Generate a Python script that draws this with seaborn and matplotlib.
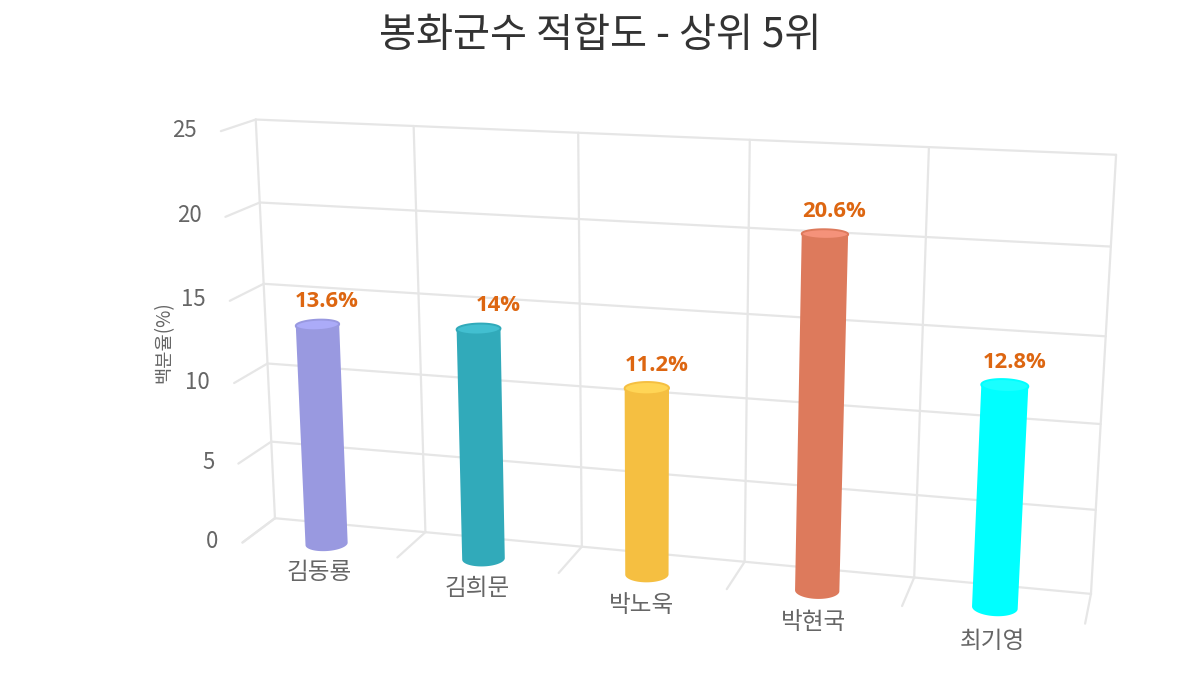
import numpy as np
import pandas as pd
import matplotlib
matplotlib.use("Agg")
import matplotlib.pyplot as plt
import seaborn as sns

CANDIDATES = ["김동룡", "김희문", "박노욱", "박현국", "최기영"]
FITNESS = [13.6, 14, 11.2, 20.6, 12.8]
VALUE_LABELS = ["13.6%", "14%", "11.2%", "20.6%", "12.8%"]
Y_TICKS = [0, 5, 10, 15, 20, 25]
BODY_COLORS = ["#9999E0", "#31AABA", "#F5BF41", "#DD7A5C", "#00FFFF"]
CAP_COLORS = ["#ABABF8", "#42BFD0", "#FFD556", "#F5927A", "#1AFFFF"]

GRID = "#E6E6E6"
KR = ["Noto Sans CJK KR", "DejaVu Sans"]

# camera: (category pos, value, depth) -> pixel, fitted on the corners of the 3d box
anchors = pd.DataFrame(
    [
        (0, 25, 0, 256, 117), (1, 25, 0, 413, 125), (3, 25, 0, 749, 140), (4, 25, 0, 929, 147),
        (5, 25, 0, 1116, 155), (0, 0, 0, 275, 518), (1, 0, 0, 425, 532), (2, 0, 0, 582, 547),
        (3, 0, 0, 744, 562), (4, 0, 0, 914, 577), (5, 0, 0, 1092, 594), (0, 25, 1, 221, 130),
        (0, 20, 1, 226, 218), (0, 15, 1, 230, 302), (0, 5, 1, 238, 464), (0, 0, 1, 242, 543),
        (1, 0, 1, 397, 557), (2, 0, 1, 559, 573), (3, 0, 1, 726, 588), (4, 0, 1, 902, 606),
        (5, 0, 1, 1086, 623), (0, 20, 0, 260, 204), (0, 15, 0, 264, 284), (0, 5, 0, 272, 442),
        (5, 20, 0, 1111, 248), (5, 10, 0, 1100, 425), (5, 5, 0, 1096, 509),
    ],
    columns=["u", "v", "w", "px", "py"],
)


def fit_camera(df):
    rows, rhs = [], []
    for u, v, w, px, py in df.itertuples(index=False):
        rows.append([u, v, w, 1, 0, 0, 0, 0, -px * u, -px * v, -px * w])
        rows.append([0, 0, 0, 0, u, v, w, 1, -py * u, -py * v, -py * w])
        rhs += [px, py]
    sol = np.linalg.lstsq(np.array(rows, float), np.array(rhs, float), rcond=None)[0]
    return np.append(sol, 1).reshape(3, 4)


CAM = fit_camera(anchors)


def project(u, v, w):
    u, v, w = np.broadcast_arrays(u, v, w)
    pts = CAM @ np.vstack([u.ravel(), v.ravel(), w.ravel(), np.ones(u.size)])
    return pts[0] / pts[2], pts[1] / pts[2]


def ring(i, value):
    t = np.linspace(0, 2 * np.pi, 120, endpoint=False)
    return project(i + 0.5 + 0.125 * np.cos(t), value, 0.76 + 0.28 * np.sin(t))


def lower_arc(x, y):
    # the part of the ring facing the viewer, left to right
    a, b = np.argmin(x), np.argmax(x)
    n = len(x)
    first = [(a + k) % n for k in range((b - a) % n + 1)]
    second = [(b + k) % n for k in range((a - b) % n + 1)][::-1]
    arc = first if y[first].mean() > y[second].mean() else second
    return x[arc], y[arc]


sns.set_theme(style="white")
plt.rcParams["font.family"] = KR

fig = plt.figure(figsize=(12, 6.73), dpi=100)
ax = fig.add_axes([0, 0, 1, 1])
ax.set_xlim(0, 1200)
ax.set_ylim(673, 0)
ax.axis("off")

# box grid
segments = []
for v in Y_TICKS:
    segments.append(((0, v, 1), (0, v, 0)))
    segments.append(((0, v, 0), (5, v, 0)))
for u in range(6):
    segments.append(((u, 0, 0), (u, 25, 0)))
    segments.append(((u, 0, 1), (u, 0, 0)))

grid_rows = []
for n, (start, end) in enumerate(segments):
    for p in (start, end):
        x, y = project(*p)
        grid_rows.append({"line": n, "x": x[0], "y": y[0]})
grid_df = pd.DataFrame(grid_rows)
sns.lineplot(
    data=grid_df, x="x", y="y", units="line", estimator=None, sort=False,
    color=GRID, linewidth=1.6, legend=False, ax=ax,
)
ax.set_xlim(0, 1200)
ax.set_ylim(673, 0)

# cylinders
for i, value in enumerate(FITNESS):
    bx, by = lower_arc(*ring(i, 0))
    tx, ty = lower_arc(*ring(i, value))
    ax.fill(np.r_[bx, tx[::-1]], np.r_[by, ty[::-1]], color=BODY_COLORS[i], lw=0, zorder=3)
    cx, cy = ring(i, value)
    ax.fill(cx, cy, facecolor=CAP_COLORS[i], edgecolor=BODY_COLORS[i], lw=1.4, zorder=4)

# value labels, left edge follows the top of the bar like the original
LABEL_DX = [-23, -3, -22, -23, -22]
for i, value in enumerate(FITNESS):
    x, y = project(i + 0.5, value, 0.76)
    dy = -23 if i == 1 else -23
    ax.text(
        x[0] + LABEL_DX[i], y[0] + dy, VALUE_LABELS[i], ha="left", va="center",
        fontsize=15.8, fontweight="bold", color="#DD6611", family=["Open Sans", "DejaVu Sans"], zorder=5,
    )

# category labels
for i, name in enumerate(CANDIDATES):
    x, y = project(i + 0.5, 0, 1)
    ax.text(x[0], y[0] + 22.5 + 1.0 * i, name, ha="center", va="center", fontsize=17, color="#666666")

# y ticks
for v in Y_TICKS:
    x, y = project(0, v, 1)
    ax.text(
        x[0] - 24, y[0] - 1, str(v), ha="right", va="center", fontsize=16, color="#666666",
        family=KR,
    )

ax.text(164, 342, "백분율(%)", rotation=90, ha="center", va="center", fontsize=13.5, color="#666666")
ax.text(600, 35, "봉화군수 적합도 - 상위 5위", ha="center", va="center", fontsize=29, color="#333333")

plt.savefig("out.png", dpi=100)
